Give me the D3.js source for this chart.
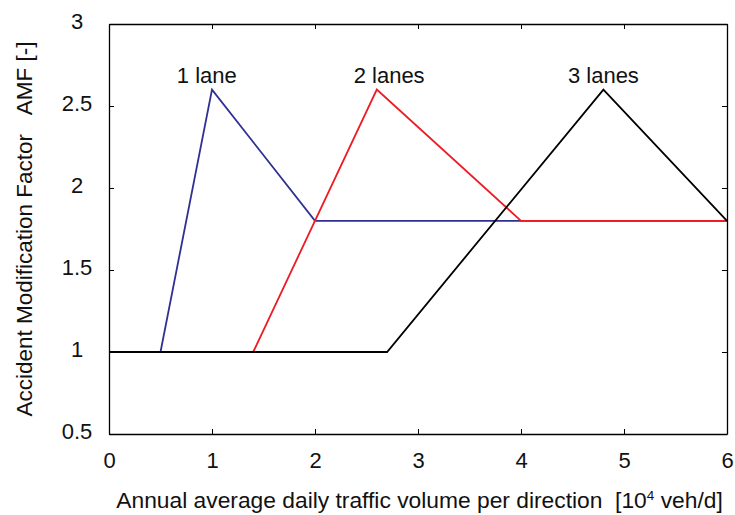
<!DOCTYPE html>
<html>
<head>
<meta charset="utf-8">
<script src="https://cdn.jsdelivr.net/npm/d3@7/dist/d3.min.js"></script>
<style>
  html, body { margin: 0; padding: 0; background: #fff; }
  text { font-family: "Liberation Sans", Arial, sans-serif; fill: #111; }
</style>
</head>
<body>
<svg id="chart" width="735" height="515"></svg>
<script>
// ---- data ----
const lane1 = [[0, 1], [0.5, 1], [1, 2.6], [2, 1.8], [6, 1.8]];
const lane2 = [[0, 1], [1.4, 1], [2.6, 2.6], [4, 1.8], [6, 1.8]];
const lane3 = [[0, 1], [2.7, 1], [4.8, 2.6], [6, 1.8]];
const seriesNames = ["1 lane", "2 lanes", "3 lanes"];
const labelPos = [[0.95, 2.64], [2.72, 2.64], [4.8, 2.64]];
const xTicks = [0, 1, 2, 3, 4, 5, 6];
const xTickLabels = ["0", "1", "2", "3", "4", "5", "6"];
const yTicks = [0.5, 1, 1.5, 2, 2.5, 3];
const yTickLabels = ["0.5", "1", "1.5", "2", "2.5", "3"];
const colors = ["#2e3192", "#ed1c24", "#000000"];

// ---- layout ----
const svg = d3.select("#chart");
const mLeft = 109, mRight = 727, mTop = 24, mBottom = 434;
const x = d3.scaleLinear().domain([0, 6]).range([mLeft, mRight]);
const y = d3.scaleLinear().domain([0.5, 3]).range([mBottom, mTop]);
const tickLen = 5;
const FS = 22;

const line = d3.line().x(d => x(d[0])).y(d => y(d[1]));
const data = [lane1, lane2, lane3];
[0, 1, 2].forEach(i => {
  svg.append("path")
    .datum(data[i])
    .attr("d", line)
    .attr("fill", "none")
    .attr("stroke", colors[i])
    .attr("stroke-width", 1.8)
    .attr("stroke-linejoin", "miter");
});

// axes
const fmtX = d => xTickLabels[xTicks.indexOf(d)];
const fmtY = d => yTickLabels[yTicks.indexOf(d)];
const styleAxis = g => {
  g.select(".domain").attr("stroke", "#000").attr("stroke-width", 1.3);
  g.selectAll(".tick line").attr("stroke", "#000").attr("stroke-width", 1);
};
svg.append("g").attr("transform", `translate(0,${mBottom})`)
  .call(d3.axisBottom(x).tickValues(xTicks).tickSizeInner(-tickLen).tickSizeOuter(0).tickPadding(18).tickFormat(fmtX))
  .call(styleAxis)
  .call(g => g.selectAll(".tick text").attr("font-size", FS).attr("font-family", "Liberation Sans, Arial, sans-serif").attr("fill", "#111"));
svg.append("g").attr("transform", `translate(0,${mTop})`)
  .call(d3.axisTop(x).tickValues(xTicks).tickSizeInner(-tickLen).tickSizeOuter(0).tickFormat(""))
  .call(styleAxis);
svg.append("g").attr("transform", `translate(${mLeft},0)`)
  .call(d3.axisLeft(y).tickValues(yTicks).tickSizeInner(-tickLen).tickSizeOuter(0).tickFormat(fmtY))
  .call(styleAxis)
  .call(g => g.selectAll(".tick text")
     .attr("font-size", FS).attr("font-family", "Liberation Sans, Arial, sans-serif").attr("fill", "#111")
     .attr("text-anchor", "middle").attr("x", 77 - mLeft).attr("dy", "0.2em"));
svg.append("g").attr("transform", `translate(${mRight},0)`)
  .call(d3.axisRight(y).tickValues(yTicks).tickSizeInner(-tickLen).tickSizeOuter(0).tickFormat(""))
  .call(styleAxis);

// series labels
svg.selectAll("text.lbl").data(seriesNames).enter().append("text")
  .attr("class", "lbl")
  .attr("x", (d, i) => x(labelPos[i][0]))
  .attr("y", (d, i) => y(labelPos[i][1]))
  .attr("text-anchor", "middle")
  .attr("font-size", FS)
  .text(d => d);

// x axis title
const xt = svg.append("text")
  .attr("x", (116 + 723) / 2).attr("y", 508)
  .attr("text-anchor", "middle").attr("font-size", 22.8);
xt.append("tspan").text("Annual average daily traffic volume per direction\u00a0\u00a0[10");
xt.append("tspan").attr("font-size", 13.5).attr("dy", -8).text("4");
xt.append("tspan").attr("dy", 8).text("\u00a0veh/d]");

// y axis title
svg.append("text")
  .attr("transform", "translate(32,229) rotate(-90)")
  .attr("text-anchor", "middle").attr("font-size", 22.5)
  .text("Accident Modification Factor\u00a0\u00a0\u00a0AMF [-]");
</script>
</body>
</html>
